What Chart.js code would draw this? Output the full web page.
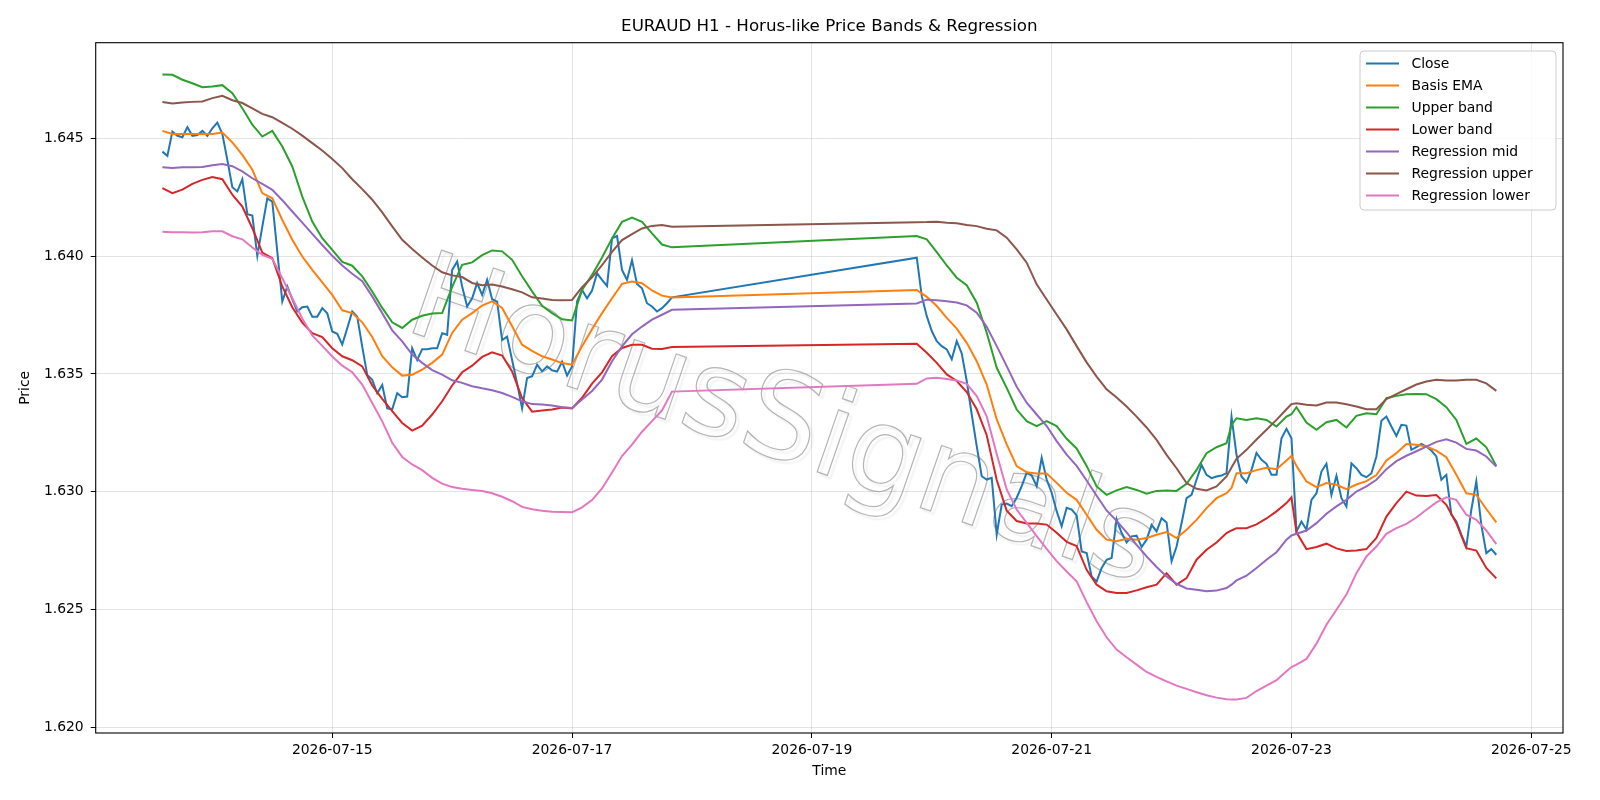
<!DOCTYPE html>
<html>
<head>
<meta charset="utf-8">
<title>EURAUD H1 - Horus-like Price Bands & Regression</title>
<script src="https://cdn.jsdelivr.net/npm/chart.js@4.4.1/dist/chart.umd.min.js"></script>
<style>
  html, body { margin: 0; padding: 0; background: #fff; }
  canvas { display: block; }
</style>
</head>
<body>
<canvas id="priceChart" width="1600" height="800"></canvas>
<script>
// Hours are counted from 2026-07-15 00:00, one H1 bar per hour.
// Market closed from Friday evening (hour 68) to Sunday evening (hour 117).
const closeWeek1Start = -34;
const closeWeek1 = [
  1.64443, 1.64425, 1.64528, 1.6451, 1.64504, 1.64547, 1.6451, 1.64513, 1.64531, 1.6451,
  1.64542, 1.64566, 1.64518, 1.64408, 1.64292, 1.64274, 1.64326, 1.64178, 1.64172, 1.64001,
  1.64125, 1.64245, 1.64231, 1.64019, 1.63807, 1.63871, 1.63817, 1.63765, 1.63783, 1.63786,
  1.63743, 1.63743, 1.63779, 1.63757, 1.6368, 1.6367, 1.63625, 1.63694, 1.63765, 1.63743,
  1.63616, 1.63496, 1.63475, 1.63418, 1.63453, 1.63354, 1.6335, 1.63418, 1.63401, 1.63404,
  1.63609, 1.63559, 1.63605, 1.63605, 1.63609, 1.63609, 1.63673, 1.63666, 1.63941, 1.63977,
  1.63871, 1.63786, 1.63821, 1.63885, 1.63835, 1.63899, 1.63817, 1.63807, 1.63644, 1.63658,
  1.63559, 1.6346, 1.63354, 1.63483, 1.6349, 1.63539, 1.63511, 1.63532, 1.63515, 1.6351,
  1.63552, 1.63493, 1.63532, 1.63807, 1.63856, 1.63821, 1.63854, 1.63927, 1.63899, 1.63873,
  1.64075, 1.64085, 1.63941, 1.63899, 1.63983, 1.63882, 1.63863, 1.638, 1.63786, 1.63765,
  1.63779, 1.638, 1.63825
];
const closeWeek2Start = 117;
const closeWeek2 = [
  1.63993, 1.6383, 1.63745, 1.63682, 1.63639, 1.63618, 1.63604, 1.63562, 1.63639, 1.63587,
  1.6347, 1.63328, 1.63194, 1.63066, 1.63052, 1.63059, 1.62819, 1.62946, 1.6295, 1.62939,
  1.62975, 1.63024, 1.63081, 1.63069, 1.63024, 1.63144, 1.63052, 1.62996, 1.62918, 1.62854,
  1.62932, 1.62925, 1.629, 1.62747, 1.6274, 1.62641, 1.6262, 1.62677, 1.62712, 1.62719,
  1.62884, 1.62825, 1.62785, 1.62811, 1.62814, 1.62766, 1.62797, 1.6286, 1.62832, 1.62888,
  1.6287, 1.62705, 1.62768, 1.62867, 1.62973, 1.62987, 1.63051, 1.63114, 1.63072, 1.63058,
  1.63065, 1.63069, 1.63079, 1.63319, 1.63157, 1.63065, 1.6304, 1.63093, 1.63165, 1.63136,
  1.63119, 1.63072, 1.63072, 1.63227, 1.63267, 1.63227, 1.62832, 1.62874, 1.62839, 1.62966,
  1.62994, 1.63086, 1.63119, 1.62987, 1.63068, 1.62973, 1.62938, 1.63121, 1.631, 1.63072,
  1.63062, 1.63079, 1.6315, 1.63301, 1.63319, 1.63277, 1.63237, 1.63284, 1.63281, 1.63178,
  1.63189, 1.63203, 1.63192, 1.63175, 1.6315, 1.63051, 1.63072, 1.62903, 1.62874, 1.62818,
  1.62768, 1.62924, 1.63044, 1.6286, 1.6274, 1.62757, 1.62733
];

// band / regression lines, read at these hours
const bandHours = [
  -34, -32, -30, -28, -26, -24, -22, -20, -18, -16, -14, -12, -10, -8, -6, -4, -2, 0,
  2, 4, 6, 8, 10, 12, 14, 16, 18, 20, 22, 24, 26, 28, 30, 32, 34, 36, 38, 40, 42, 44,
  46, 48, 50, 52, 54, 56, 58, 60, 62, 64, 66, 68,
  117, 119, 121, 123, 125, 127, 129, 131, 133, 135, 137, 139, 141, 143, 145, 147, 149,
  151, 153, 155, 157, 159, 161, 163, 165, 167, 169, 171, 173, 175, 177, 179, 180, 181,
  183, 185, 187, 189, 191, 192, 193, 195, 197, 199, 201, 203, 205, 207, 209, 211, 213,
  215, 217, 219, 221, 223, 225, 227, 229, 231, 233
];
const upperBand = [
  1.6477, 1.64769, 1.64748, 1.64733, 1.64716, 1.64719, 1.64725, 1.64691, 1.64627, 1.64557,
  1.64507, 1.64531, 1.64465, 1.6438, 1.64252, 1.64146, 1.64076, 1.64026, 1.63975, 1.63959,
  1.63914, 1.6385, 1.6378, 1.63719, 1.63695, 1.6373, 1.63747, 1.63756, 1.63758, 1.63869,
  1.63963, 1.63973, 1.64004, 1.64024, 1.6402, 1.63984, 1.63914, 1.6385, 1.63789, 1.63758,
  1.63732, 1.63727, 1.63856, 1.6392, 1.63994, 1.64075, 1.64145, 1.64163, 1.64145, 1.64096,
  1.64049, 1.64037,
  1.64085, 1.64071, 1.64017, 1.6396, 1.63908, 1.63876, 1.63802, 1.63675, 1.63526, 1.63441,
  1.63349, 1.633, 1.63279, 1.633, 1.63279, 1.63225, 1.63184, 1.6311, 1.63023, 1.62987,
  1.63006, 1.6302, 1.63008, 1.62992, 1.63004, 1.63006, 1.63004, 1.63034, 1.63093, 1.63164,
  1.63189, 1.63206, 1.63284, 1.63312, 1.63305, 1.63312, 1.63305, 1.63277, 1.63319, 1.63329,
  1.63359, 1.63294, 1.63263, 1.63295, 1.63305, 1.63273, 1.63322, 1.63333, 1.63329, 1.63397,
  1.63407, 1.63414, 1.63415, 1.63414, 1.63393, 1.63359, 1.63305, 1.63203, 1.63226, 1.63189,
  1.6311
];
const basisEma = [
  1.64531, 1.64518, 1.64518, 1.64518, 1.64518, 1.64518, 1.64524, 1.64482, 1.64429, 1.64366,
  1.64267, 1.64245, 1.64153, 1.64069, 1.63998, 1.63941, 1.63888, 1.63835, 1.6377, 1.63758,
  1.63719, 1.63657, 1.63575, 1.63528, 1.63493, 1.63497, 1.63518, 1.63547, 1.63582, 1.63674,
  1.6373, 1.63758, 1.6379, 1.63808, 1.6378, 1.63702, 1.63624, 1.63598, 1.63575, 1.63561,
  1.63546, 1.63539, 1.63617, 1.6369, 1.63758, 1.63821, 1.63882, 1.63892, 1.63885, 1.63854,
  1.63832, 1.63824,
  1.63856, 1.63827, 1.63788, 1.63738, 1.63692, 1.63632, 1.63554, 1.63455, 1.63307, 1.63201,
  1.63109, 1.63083, 1.63078, 1.63078, 1.63038, 1.62996, 1.62966, 1.62903, 1.62839, 1.62797,
  1.6279, 1.62801, 1.62797, 1.62804, 1.62818, 1.62829, 1.62804, 1.62839, 1.62881, 1.62931,
  1.62973, 1.62994, 1.63016, 1.63079, 1.63079, 1.63092, 1.63102, 1.63096, 1.63133, 1.63152,
  1.6311, 1.63044, 1.6302, 1.63037, 1.6303, 1.63011, 1.63031, 1.63045, 1.63071, 1.63133,
  1.63164, 1.63203, 1.632, 1.63192, 1.63175, 1.63147, 1.63072, 1.62994, 1.62987, 1.62927,
  1.6287
];
const lowerBand = [
  1.64288, 1.64267, 1.64282, 1.64306, 1.64323, 1.64335, 1.64326, 1.6426, 1.6421, 1.64118,
  1.64015, 1.63991, 1.63871, 1.63783, 1.63718, 1.63673, 1.63656, 1.63609, 1.63575, 1.63558,
  1.63532, 1.63451, 1.63394, 1.63342, 1.63292, 1.6326, 1.63281, 1.63328, 1.63384, 1.63451,
  1.63507, 1.63535, 1.63572, 1.63592, 1.63578, 1.63511, 1.63398, 1.6334, 1.63345, 1.63349,
  1.63358, 1.63354, 1.63399, 1.63459, 1.63507, 1.63575, 1.6361, 1.63624, 1.63624, 1.63607,
  1.63606, 1.63614,
  1.63628, 1.6359, 1.63547, 1.63498, 1.6347, 1.63423, 1.6335, 1.6324, 1.6305, 1.6292,
  1.62876, 1.62866, 1.62866, 1.62861, 1.62826, 1.62788, 1.6277, 1.62669, 1.62606, 1.62578,
  1.62571, 1.62571, 1.62582, 1.62595, 1.62606, 1.62655, 1.62606, 1.62634, 1.62712, 1.62754,
  1.62785, 1.62825, 1.62836, 1.62846, 1.62846, 1.62862, 1.62887, 1.62917, 1.62952, 1.62977,
  1.62828, 1.62757, 1.62766, 1.6278, 1.6276, 1.62749, 1.62751, 1.62757, 1.62804, 1.62895,
  1.62952, 1.63001, 1.62984, 1.62982, 1.62986, 1.62945, 1.62867, 1.62761, 1.62751, 1.62677,
  1.62633
];
const regressionMid = [
  1.64377, 1.64374, 1.64377, 1.64377, 1.64378, 1.64385, 1.6439, 1.64381, 1.64359, 1.6433,
  1.64306, 1.64281, 1.64237, 1.64189, 1.64142, 1.64094, 1.64047, 1.64001, 1.6396, 1.63925,
  1.63893, 1.63829, 1.63758, 1.63685, 1.63638, 1.63582, 1.63547, 1.63516, 1.63497, 1.63473,
  1.63462, 1.63448, 1.63439, 1.63431, 1.63419, 1.63403, 1.63384, 1.63372, 1.6337, 1.63366,
  1.63359, 1.63356, 1.63392, 1.63428, 1.63476, 1.63554, 1.63617, 1.63668, 1.63701, 1.6373,
  1.63751, 1.63772,
  1.63799, 1.63815, 1.63813, 1.63808, 1.63803, 1.63791, 1.6376, 1.637, 1.63618, 1.63533,
  1.63446, 1.63378, 1.63328, 1.63279, 1.63215, 1.63158, 1.6311, 1.63048, 1.62983, 1.62921,
  1.62877, 1.62828, 1.62775, 1.62726, 1.62681, 1.62641, 1.6261, 1.6259, 1.62585, 1.62578,
  1.62581, 1.62592, 1.62606, 1.62624, 1.62644, 1.62677, 1.62712, 1.62744, 1.62797, 1.62815,
  1.62822, 1.62836, 1.62867, 1.62907, 1.62938, 1.62966, 1.63001, 1.63023, 1.63051, 1.63096,
  1.6313, 1.63153, 1.63172, 1.63192, 1.63212, 1.63223, 1.63209, 1.63182, 1.63175, 1.6315,
  1.63107
];
const regressionUpper = [
  1.64653, 1.64647, 1.64651, 1.64654, 1.64656, 1.6467, 1.6468, 1.64661, 1.64649, 1.64626,
  1.64603, 1.64589, 1.64565, 1.6454, 1.64511, 1.64479, 1.64448, 1.64412, 1.64373, 1.64326,
  1.64284, 1.64239, 1.64185, 1.64126, 1.64069, 1.6403, 1.63994, 1.6396, 1.63931, 1.63918,
  1.63911, 1.63886, 1.63876, 1.63879, 1.63871, 1.63859, 1.63846, 1.63825, 1.6382, 1.63814,
  1.63813, 1.63814, 1.63868, 1.6391, 1.63962, 1.64018, 1.64068, 1.64093, 1.64117, 1.64128,
  1.64132, 1.64124,
  1.64143, 1.64144, 1.64146, 1.64141, 1.64139, 1.64132, 1.64127, 1.64116, 1.64109, 1.64078,
  1.64028, 1.63972, 1.6388, 1.63816, 1.63752, 1.63689, 1.63618, 1.63549, 1.63489, 1.63435,
  1.634, 1.63362, 1.63319, 1.63273, 1.6322, 1.63157, 1.631, 1.63037, 1.63013, 1.63006,
  1.63023, 1.63065, 1.63103, 1.6314, 1.63178, 1.63222, 1.63263, 1.63305, 1.6335, 1.63372,
  1.63376, 1.63369, 1.63366, 1.63379, 1.63379, 1.63371, 1.63362, 1.6335, 1.6335, 1.63393,
  1.63414, 1.63435, 1.63455, 1.63468, 1.63475, 1.63472, 1.63472, 1.63475, 1.63475, 1.6346,
  1.63428
];
const regressionLower = [
  1.64103, 1.64101, 1.64101, 1.641, 1.64101, 1.64105, 1.64105, 1.64084, 1.64071, 1.64036,
  1.64005, 1.63988, 1.63906, 1.63821, 1.63735, 1.63663, 1.63619, 1.63574, 1.63535, 1.63507,
  1.63455, 1.63377, 1.63299, 1.63208, 1.63148, 1.63116, 1.63092, 1.63059, 1.63035, 1.6302,
  1.63013, 1.63008, 1.63003, 1.62994, 1.62979, 1.6296, 1.62936, 1.62926, 1.6292, 1.62915,
  1.62914, 1.62913, 1.62934, 1.62965, 1.63014, 1.63082, 1.63152, 1.632, 1.63255, 1.633,
  1.63345, 1.63425,
  1.63458, 1.63481, 1.63484, 1.63479, 1.63472, 1.63458, 1.63406, 1.6332, 1.6316, 1.6301,
  1.62925, 1.62868, 1.62812, 1.62758, 1.62706, 1.62662, 1.6262, 1.62532, 1.62451, 1.62383,
  1.62331, 1.62298, 1.62267, 1.62236, 1.62215, 1.62196, 1.62178, 1.62164, 1.6215, 1.62137,
  1.62127, 1.6212, 1.62119, 1.62119, 1.62126, 1.62155, 1.62178, 1.62201, 1.62239, 1.62257,
  1.62267, 1.62291, 1.62356, 1.62436, 1.625, 1.62564, 1.62655, 1.62726, 1.62768, 1.62822,
  1.62846, 1.62864, 1.62891, 1.62924, 1.62955, 1.62977, 1.62966, 1.62903, 1.62881, 1.62836,
  1.62778
];

const xTickHours = [0, 48, 96, 144, 192, 240];
const xTickLabels = ['2026-07-15', '2026-07-17', '2026-07-19', '2026-07-21', '2026-07-23', '2026-07-25'];
const yTickValues = [1.620, 1.625, 1.630, 1.635, 1.640, 1.645];
const yTickLabels = ['1.620', '1.625', '1.630', '1.635', '1.640', '1.645'];

const seriesNames = ['Close', 'Basis EMA', 'Upper band', 'Lower band', 'Regression mid', 'Regression upper', 'Regression lower'];
const seriesColors = ['#1f77b4', '#ff7f0e', '#2ca02c', '#d62728', '#9467bd', '#8c564b', '#e377c2'];

const FONT = '"DejaVu Sans", "Liberation Sans", sans-serif';

// plot box in canvas pixels
const box = { left: 95.7, top: 42.7, right: 1563, bottom: 733 };

function toPoints(hours, values) {
  return values.map((v, i) => ({ x: hours[i], y: v }));
}

const closePoints = closeWeek1.map((v, i) => ({ x: closeWeek1Start + i, y: v }))
  .concat(closeWeek2.map((v, i) => ({ x: closeWeek2Start + i, y: v })));

const seriesPoints = [
  closePoints,
  toPoints(bandHours, basisEma),
  toPoints(bandHours, upperBand),
  toPoints(bandHours, lowerBand),
  toPoints(bandHours, regressionMid),
  toPoints(bandHours, regressionUpper),
  toPoints(bandHours, regressionLower)
];

// chart.js draws the first dataset on top, matplotlib the last one -> reverse
const datasets = seriesNames.map((name, i) => ({
  label: name,
  data: seriesPoints[i],
  borderColor: seriesColors[i],
  backgroundColor: seriesColors[i],
  borderWidth: 2,
  pointRadius: 0,
  tension: 0,
  fill: false
})).reverse();

const decorations = {
  id: 'decorations',
  beforeDraw(chart) {
    const c = chart.ctx;
    c.save();
    c.fillStyle = '#ffffff';
    c.fillRect(0, 0, chart.width, chart.height);
    c.restore();
  },
  beforeDatasetsDraw(chart) {
    // watermark
    const c = chart.ctx;
    c.save();
    c.translate(402, 329);
    c.rotate(19 * Math.PI / 180);
    c.font = '120px ' + FONT;
    c.textBaseline = 'alphabetic';
    c.textAlign = 'left';
    c.shadowColor = 'rgba(0,0,0,0.13)';
    c.shadowBlur = 2;
    c.shadowOffsetX = 3;
    c.shadowOffsetY = 3;
    c.lineWidth = 1.2;
    c.strokeStyle = 'rgba(150,150,150,0.7)';
    c.strokeText('HorusSignals', 0, 0);
    c.restore();
  },
  afterDraw(chart) {
    const c = chart.ctx;
    const a = chart.chartArea;
    c.save();

    // spines
    c.strokeStyle = '#000';
    c.lineWidth = 1.1;
    c.strokeRect(a.left, a.top, a.right - a.left, a.bottom - a.top);

    // title and axis labels
    c.fillStyle = '#000';
    c.textAlign = 'center';
    c.textBaseline = 'alphabetic';
    c.font = '16.7px ' + FONT;
    c.fillText('EURAUD H1 - Horus-like Price Bands & Regression', (a.left + a.right) / 2, 31);

    c.font = '13.9px ' + FONT;
    c.textBaseline = 'middle';
    c.fillText('Time', (a.left + a.right) / 2, 771);
    c.save();
    c.translate(25.5, (a.top + a.bottom) / 2);
    c.rotate(-Math.PI / 2);
    c.fillText('Price', 0, 0);
    c.restore();

    // legend
    const lx = 1360, ly = 51, lw = 196, lh = 159;
    c.beginPath();
    c.roundRect(lx, ly, lw, lh, 4);
    c.fillStyle = 'rgba(255,255,255,0.8)';
    c.fill();
    c.strokeStyle = '#cccccc';
    c.lineWidth = 1;
    c.stroke();
    c.font = '13.9px ' + FONT;
    c.textAlign = 'left';
    c.textBaseline = 'middle';
    seriesNames.forEach((name, i) => {
      const y = 63.5 + i * 22;
      c.strokeStyle = seriesColors[i];
      c.lineWidth = 2;
      c.beginPath();
      c.moveTo(1366, y);
      c.lineTo(1399, y);
      c.stroke();
      c.fillStyle = '#000';
      c.fillText(name, 1411.5, y + 1);
    });
    c.restore();
  }
};

const gridColor = 'rgba(176,176,176,0.35)';

new Chart(document.getElementById('priceChart').getContext('2d'), {
  type: 'line',
  data: { datasets: datasets },
  options: {
    responsive: false,
    maintainAspectRatio: false,
    animation: false,
    devicePixelRatio: 1,
    layout: { padding: { top: box.top, right: 1600 - box.right, bottom: 0, left: 0 } },
    plugins: {
      legend: { display: false },
      title: { display: false },
      tooltip: { enabled: false }
    },
    scales: {
      x: {
        type: 'linear',
        min: -47.35,
        max: 246.35,
        afterFit: function (scale) {
          scale.height = 800 - box.bottom;
          scale.paddingLeft = 0;
          scale.paddingRight = 0;
        },
        afterBuildTicks: function (scale) {
          scale.ticks = xTickHours.map(v => ({ value: v }));
        },
        ticks: {
          autoSkip: false,
          maxRotation: 0,
          minRotation: 0,
          padding: 4,
          color: '#000',
          font: { family: FONT, size: 13.9 },
          callback: function (value, index) { return xTickLabels[index]; }
        },
        grid: { color: gridColor, lineWidth: 1, tickColor: '#000', tickLength: 5, tickWidth: 1 },
        border: { display: false }
      },
      y: {
        type: 'linear',
        min: 1.61977,
        max: 1.64905,
        afterFit: function (scale) {
          scale.width = box.left;
          scale.paddingTop = 0;
          scale.paddingBottom = 0;
        },
        afterBuildTicks: function (scale) {
          scale.ticks = yTickValues.map(v => ({ value: v }));
        },
        ticks: {
          padding: 7,
          color: '#000',
          font: { family: FONT, size: 13.9 },
          callback: function (value, index) { return yTickLabels[index]; }
        },
        grid: { color: gridColor, lineWidth: 1, tickColor: '#000', tickLength: 5, tickWidth: 1 },
        border: { display: false }
      }
    }
  },
  plugins: [decorations]
});
</script>
</body>
</html>
